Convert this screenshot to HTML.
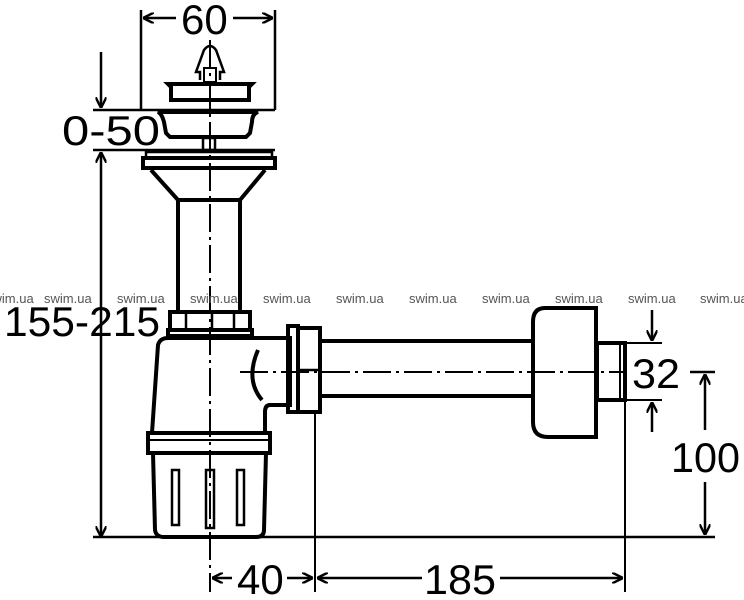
<!DOCTYPE html>
<html><head><style>html,body{margin:0;padding:0;background:#fff}svg{display:block}</style></head><body>
<svg width="744" height="600" viewBox="0 0 744 600" xmlns="http://www.w3.org/2000/svg" font-family="Liberation Sans, sans-serif">
<defs>
<marker id="a" viewBox="0 0 10 10" refX="10" refY="5" markerWidth="11" markerHeight="11" orient="auto-start-reverse" markerUnits="userSpaceOnUse"><path d="M0,0 L10,5 L0,10" fill="none" stroke="#000" stroke-width="2.2"/></marker>
</defs>
<g stroke="#000" fill="none">
<line x1="141" y1="10" x2="141" y2="110" stroke-width="2.5"/>
<line x1="275" y1="10" x2="275" y2="110" stroke-width="2.5"/>
<line x1="143" y1="18" x2="176" y2="18" stroke-width="2.5" marker-start="url(#a)"/>
<line x1="233" y1="18" x2="273" y2="18" stroke-width="2.5" marker-end="url(#a)"/>
<path d="M200,80 L200,72 L196,72 L204,50 Q210,42 216,50 L224,72 L220,72 L220,80" stroke-width="2.5"/>
<rect x="204" y="68" width="12" height="14" stroke-width="2"/>
<path d="M168,84 L252,84 L249,87 L249,100 L171,100 L171,87 Z" stroke-width="4"/>
<line x1="93" y1="110" x2="275" y2="110" stroke-width="2.5"/>
<path d="M158,112 L258,112 Q252,114 252,122 L250,133 L246,137 L170,137 L166,133 L164,122 Q162,114 158,112 Z" stroke-width="4"/>
<rect x="203" y="138" width="12" height="12" stroke-width="2.5"/>
<line x1="93" y1="150" x2="275" y2="150" stroke-width="2.5"/>
<rect x="146" y="152" width="126" height="6" stroke-width="2.5"/>
<rect x="143" y="158" width="132" height="10" stroke-width="4"/>
<path d="M151,170 L178,200 L240,200 L265,170" stroke-width="4"/>
<line x1="178" y1="200" x2="178" y2="312" stroke-width="4"/>
<line x1="240" y1="200" x2="240" y2="312" stroke-width="4"/>
<line x1="101" y1="52" x2="101" y2="108" stroke-width="2.5" marker-end="url(#a)"/>
<line x1="101" y1="152" x2="101" y2="537" stroke-width="2.5" marker-start="url(#a)" marker-end="url(#a)"/>
<path d="M170,330 L170,312 L250,312 L250,330 M168,330 L252,330 L252,336 L168,336 Z" stroke-width="4"/>
<line x1="186" y1="312" x2="186" y2="330" stroke-width="2.5"/>
<line x1="212" y1="312" x2="212" y2="330" stroke-width="2.5"/>
<line x1="234" y1="312" x2="234" y2="330" stroke-width="2.5"/>
<path d="M152,433 L158,345 Q160,338 168,338 L290,338 L290,405 L270,405 Q265,405 265,412 L265,433" stroke-width="4"/>
<path d="M258,350 Q245,380 262,400" stroke-width="4"/>
<rect x="148" y="433" width="122" height="20" stroke-width="4"/>
<line x1="150" y1="440" x2="268" y2="440" stroke-width="2"/>
<path d="M153,453 L155,530 Q156,537 164,537 L256,537 Q264,537 264,530 L266,453" stroke-width="4"/>
<rect x="172" y="470" width="7" height="55" stroke-width="2.5"/>
<rect x="206" y="470" width="8" height="58" stroke-width="2.5"/>
<rect x="237" y="470" width="7" height="55" stroke-width="2.5"/>
<rect x="288" y="326" width="10" height="86" stroke-width="4"/>
<rect x="298" y="328" width="22" height="84" stroke-width="4"/>
<line x1="298" y1="370" x2="320" y2="370" stroke-width="2.5"/>
<line x1="320" y1="341" x2="532" y2="341" stroke-width="4"/>
<line x1="320" y1="396" x2="532" y2="396" stroke-width="4"/>
<path d="M596,308 L545,308 Q533,308 533,322 L533,422 Q533,437 548,437 L596,437 Z" stroke-width="4"/>
<rect x="597" y="343" width="28" height="57" stroke-width="4"/>
<line x1="620" y1="345" x2="620" y2="398" stroke-width="2"/>
<line x1="625" y1="343" x2="662" y2="343" stroke-width="2"/>
<line x1="625" y1="400" x2="662" y2="400" stroke-width="2"/>
<line x1="652" y1="310" x2="652" y2="341" stroke-width="2.5" marker-end="url(#a)"/>
<line x1="652" y1="432" x2="652" y2="402" stroke-width="2.5" marker-end="url(#a)"/>
<line x1="690" y1="372" x2="715" y2="372" stroke-width="2.5"/>
<line x1="705" y1="374" x2="705" y2="430" stroke-width="2.5" marker-start="url(#a)"/>
<line x1="705" y1="482" x2="705" y2="535" stroke-width="2.5" marker-end="url(#a)"/>
<line x1="93" y1="537" x2="715" y2="537" stroke-width="2.5"/>
<line x1="315" y1="412" x2="315" y2="592" stroke-width="2"/>
<line x1="625" y1="400" x2="625" y2="592" stroke-width="2"/>
<line x1="212" y1="578" x2="232" y2="578" stroke-width="2.5" marker-start="url(#a)"/>
<line x1="287" y1="578" x2="313" y2="578" stroke-width="2.5" marker-end="url(#a)"/>
<line x1="317" y1="578" x2="422" y2="578" stroke-width="2.5" marker-start="url(#a)"/>
<line x1="500" y1="578" x2="623" y2="578" stroke-width="2.5" marker-end="url(#a)"/>
</g>
<g stroke="#000" stroke-width="2" fill="none" stroke-dasharray="28,5,3,5">
<line x1="210" y1="40" x2="210" y2="592"/>
<line x1="240" y1="372" x2="625" y2="372"/>
</g>
<g fill="#000" font-size="42">
<text x="181" y="34">60</text>
<text x="62" y="145" textLength="98" lengthAdjust="spacingAndGlyphs">0-50</text>
<text x="4" y="336" textLength="156" lengthAdjust="spacingAndGlyphs">155-215</text>
<text x="632" y="388" textLength="48" lengthAdjust="spacingAndGlyphs">32</text>
<text x="671" y="472" textLength="69" lengthAdjust="spacingAndGlyphs">100</text>
<text x="237" y="594">40</text>
<text x="424" y="594" textLength="72" lengthAdjust="spacingAndGlyphs">185</text>
</g>
<g fill="#555" font-size="13">
<text x="-14" y="303">swim.ua</text><text x="44" y="303">swim.ua</text><text x="117" y="303">swim.ua</text><text x="190" y="303">swim.ua</text><text x="263" y="303">swim.ua</text><text x="336" y="303">swim.ua</text><text x="409" y="303">swim.ua</text><text x="482" y="303">swim.ua</text><text x="555" y="303">swim.ua</text><text x="628" y="303">swim.ua</text><text x="700" y="303">swim.ua</text>
</g>
</svg>
</body></html>
